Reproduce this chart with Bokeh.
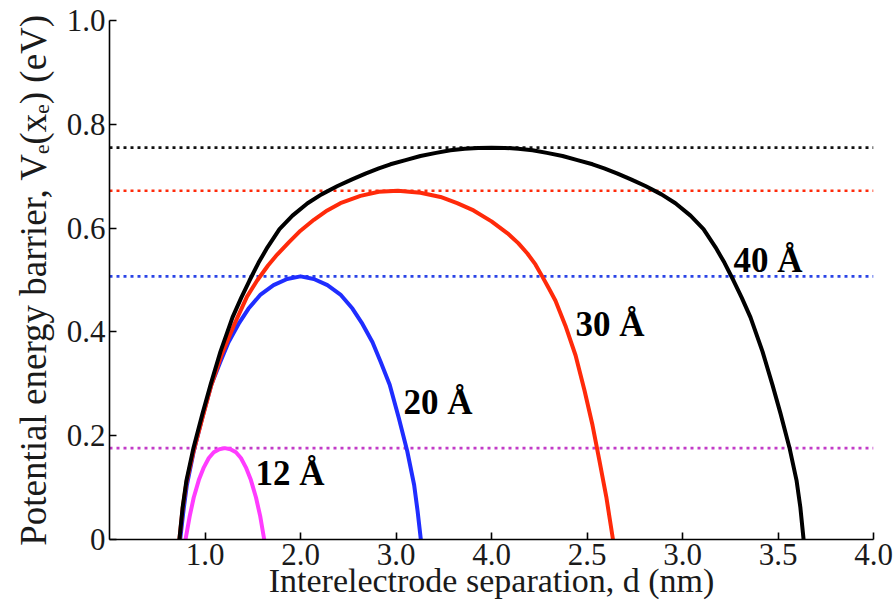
from bokeh.plotting import figure
from bokeh.models import Range1d, FixedTicker, Label
from bokeh.embed import file_html
from bokeh.resources import INLINE

# Potential energy barrier V_e(x_e) across the gap, for four electrode separations
x_12 = [0.398, 0.420, 0.441, 0.468, 0.494, 0.520, 0.546, 0.575, 0.604, 0.633, 0.662, 0.688, 0.714, 0.740, 0.767, 0.789, 0.810]
v_12 = [0.000, 0.045, 0.081, 0.115, 0.139, 0.157, 0.168, 0.174, 0.176, 0.174, 0.168, 0.157, 0.139, 0.115, 0.081, 0.045, 0.000]

x_20 = [0.370, 0.387, 0.405, 0.441, 0.486, 0.533, 0.580, 0.623, 0.680, 0.728, 0.791, 0.859, 0.930, 1.000,
        1.070, 1.141, 1.209, 1.272, 1.320, 1.377, 1.420, 1.467, 1.514, 1.559, 1.595, 1.613, 1.630]
v_20 = [0.000, 0.055, 0.105, 0.170, 0.235, 0.298, 0.342, 0.380, 0.418, 0.445, 0.472, 0.490, 0.502, 0.507,
        0.502, 0.490, 0.472, 0.445, 0.418, 0.380, 0.342, 0.298, 0.235, 0.170, 0.105, 0.055, 0.000]

x_30 = [0.366, 0.383, 0.403, 0.440, 0.487, 0.531, 0.586, 0.654, 0.720, 0.773, 0.830, 0.878, 0.940, 1.000,
        1.070, 1.140, 1.209, 1.314, 1.410, 1.510, 1.628, 1.733, 1.820, 1.906, 2.000, 2.084, 2.140, 2.188,
        2.230, 2.267, 2.300, 2.335, 2.387, 2.440, 2.487, 2.529, 2.565, 2.602, 2.619, 2.636]
v_30 = [0.000, 0.060, 0.110, 0.170, 0.235, 0.295, 0.355, 0.415, 0.468, 0.499, 0.528, 0.549, 0.573, 0.595,
        0.616, 0.634, 0.648, 0.662, 0.670, 0.672, 0.668, 0.660, 0.648, 0.634, 0.613, 0.590, 0.571, 0.551,
        0.530, 0.506, 0.484, 0.460, 0.412, 0.355, 0.287, 0.220, 0.152, 0.080, 0.040, 0.000]

x_40 = [0.366, 0.383, 0.403, 0.440, 0.487, 0.529, 0.581, 0.644, 0.690, 0.733, 0.780, 0.827, 0.890, 0.958,
        1.037, 1.110, 1.194, 1.270, 1.340, 1.410, 1.471, 1.550, 1.628, 1.710, 1.785, 1.860, 1.930, 2.000,
        2.070, 2.140, 2.215, 2.290, 2.372, 2.450, 2.529, 2.590, 2.660, 2.730, 2.806, 2.890, 2.963, 3.042,
        3.110, 3.173, 3.220, 3.267, 3.310, 3.356, 3.419, 3.471, 3.513, 3.560, 3.597, 3.617, 3.634]
v_40 = [0.000, 0.062, 0.114, 0.177, 0.243, 0.298, 0.362, 0.428, 0.466, 0.499, 0.533, 0.563, 0.598, 0.624,
        0.648, 0.665, 0.681, 0.694, 0.705, 0.715, 0.723, 0.731, 0.739, 0.745, 0.750, 0.753, 0.7545, 0.755,
        0.7545, 0.753, 0.750, 0.745, 0.739, 0.731, 0.723, 0.715, 0.705, 0.694, 0.681, 0.665, 0.648, 0.624,
        0.598, 0.563, 0.533, 0.499, 0.466, 0.428, 0.362, 0.298, 0.243, 0.177, 0.114, 0.062, 0.000]

# Barrier maxima, drawn as dotted reference levels
peak_levels = [0.176, 0.507, 0.672, 0.755]
gap_labels = ["12 Å", "20 Å", "30 Å", "40 Å"]

# Axis ticks and their printed labels
xtick_values = [0.5, 1.0, 1.5, 2.0, 2.5, 3.0, 3.5, 4.0]
xtick_labels = ["1.0", "2.0", "3.0", "4.0", "2.5", "3.0", "3.5", "4.0"]
ytick_values = [0.0, 0.2, 0.4, 0.6, 0.8, 1.0]
ytick_labels = ["0", "0.2", "0.4", "0.6", "0.8", "1.0"]

x_title = "Interelectrode separation, d (nm)"
y_title = "Potential energy barrier, V\u2091(x\u2091) (eV)"

FONT = "Liberation Serif"
curve_colors = ["#ff3cff", "#1f2dff", "#ff2a0a", "#000000"]
level_colors = ["#c23cc8", "#2a44e6", "#ff2a0a", "#111111"]

p = figure(width=894, height=610, x_range=Range1d(0, 4.0), y_range=Range1d(0, 1.0),
           output_backend="svg", toolbar_location=None,
           min_border_left=109, min_border_right=21, min_border_top=20, min_border_bottom=71)
p.outline_line_color = None
p.grid.visible = False
p.background_fill_color = "white"

# dotted peak levels
for lvl, col in zip(peak_levels, level_colors):
    p.line([0, 4.0], [lvl, lvl], line_color=col, line_width=2.6, line_dash="3 4")

# barrier curves
for xs, vs, col in zip([x_12, x_20, x_30, x_40], [v_12, v_20, v_30, v_40], curve_colors):
    p.line(xs, vs, line_color=col, line_width=4, line_join="round", line_cap="round")

# curve labels
label_pos = [(0.764, 0.127), (1.539, 0.264), (2.440, 0.414), (3.267, 0.538)]
for (lx, ly), txt in zip(label_pos, gap_labels):
    p.add_layout(Label(x=lx, y=ly, text=txt, text_font=FONT, text_font_size="35px",
                       text_font_style="bold", text_color="black",
                       text_align="left", text_baseline="alphabetic"))

# axes
for ax in (p.xaxis[0], p.yaxis[0]):
    ax.axis_line_color = "black"
    ax.axis_line_width = 1.6
    ax.major_tick_line_color = "black"
    ax.major_tick_line_width = 1.6
    ax.major_tick_in = 7
    ax.major_tick_out = 0
    ax.minor_tick_line_color = None
    ax.major_label_text_font = FONT
    ax.major_label_text_font_size = "31px"
    ax.major_label_text_color = "#1a1a1a"
    ax.axis_label_text_font = FONT
    ax.axis_label_text_font_style = "normal"
    ax.axis_label_text_color = "#1a1a1a"

xa = p.xaxis[0]
xa.ticker = FixedTicker(ticks=xtick_values)
xa.major_label_overrides = dict(zip(xtick_values, xtick_labels))
xa.major_label_standoff = 4
xa.axis_label = x_title
xa.axis_label_text_font_size = "34px"
xa.axis_label_standoff = -6

ya = p.yaxis[0]
ya.ticker = FixedTicker(ticks=ytick_values)
ya.major_label_overrides = dict(zip(ytick_values, ytick_labels))
ya.major_label_standoff = 4
ya.axis_label = y_title
ya.axis_label_text_font_size = "37px"
ya.axis_label_standoff = 10

open("out.html", "w").write(file_html(p, INLINE))
